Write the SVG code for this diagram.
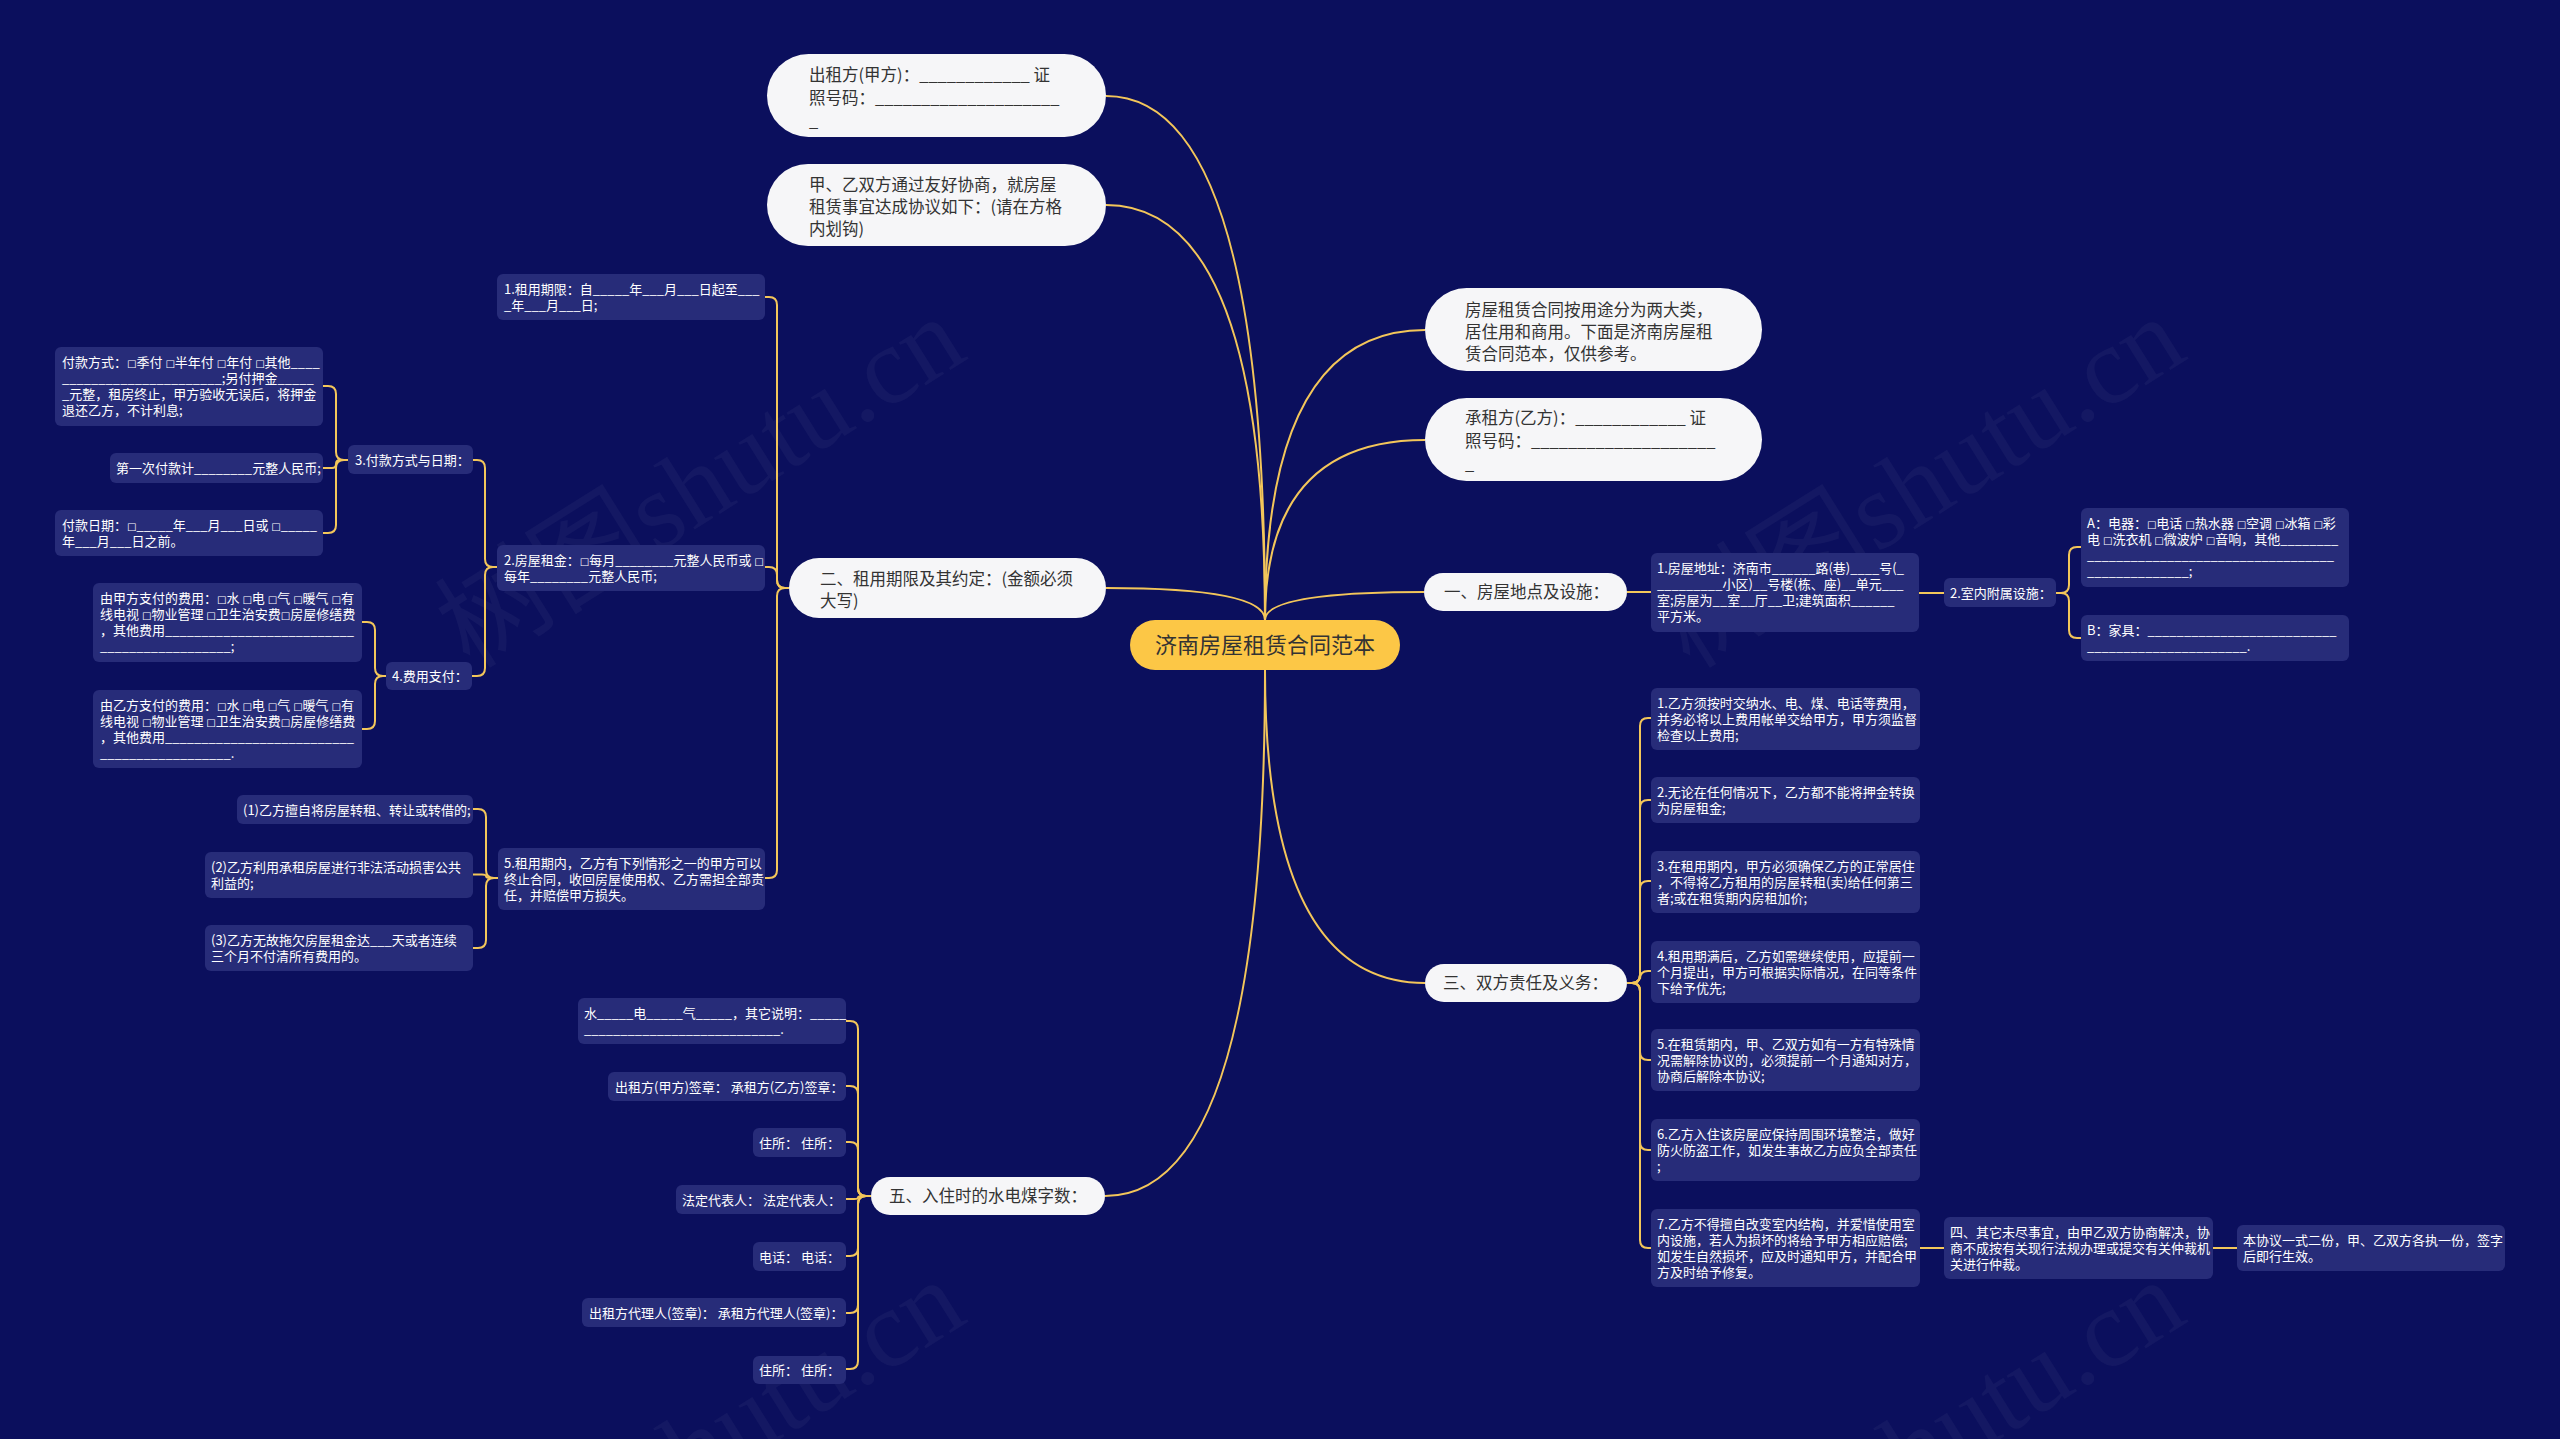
<svg xmlns="http://www.w3.org/2000/svg" width="2560" height="1439" viewBox="0 0 2560 1439">
<defs>
<style>
.bg{fill:#0b0f5d}
.conn path{fill:none;stroke:#f3c65a;stroke-width:2}
.r1{fill:#f6f6f8}
.r2{fill:#272c79}
.rt{fill:#fcc746}
text{font-family:"Noto Sans CJK SC","Noto Sans",sans-serif}
.t1{font-size:16.5px;fill:#333}
.t2{font-size:13px;fill:#fff}
.t0{font-size:22px;fill:#333}
.b{font-family:"DejaVu Sans",sans-serif;font-size:10px}
.wm{font-family:"Liberation Serif","Noto Sans CJK SC",serif;font-size:110px;fill:#ffffff;fill-opacity:0.04}
</style>
</defs>
<rect class="bg" x="0" y="0" width="2560" height="1439"/>

<g id="watermark">
<text class="wm" x="470" y="670" transform="rotate(-32 470 670)">树图shutu.cn</text>
<text class="wm" x="1690" y="670" transform="rotate(-32 1690 670)">树图shutu.cn</text>
<text class="wm" x="470" y="1633" transform="rotate(-32 470 1633)">树图shutu.cn</text>
<text class="wm" x="1690" y="1633" transform="rotate(-32 1690 1633)">树图shutu.cn</text>
</g>

<g id="connectors" class="conn">
<path d="M1265 620 Q1265 96 1106 96"/>
<path d="M1265 620 Q1265 205 1106 205"/>
<path d="M1265 620 Q1265 330 1425 330"/>
<path d="M1265 620 Q1265 440 1425 440"/>
<path d="M1265 620 Q1265 588 1106 588"/>
<path d="M1265 620 Q1265 592 1424 592"/>
<path d="M1265 670 Q1265 983 1425 983"/>
<path d="M1265 670 Q1265 1196 1105 1196"/>
<path d="M789 588 H785 Q777 588 777 580 V305 Q777 297 769 297 H765"/>
<path d="M789 588 H785 Q777 588 777 580 V575 Q777 567 769 567 H765"/>
<path d="M789 588 H785 Q777 588 777 596 V870 Q777 878 769 878 H765"/>
<path d="M497 567 H493 Q485 567 485 559 V468 Q485 460 477 460 H473"/>
<path d="M497 567 H493 Q485 567 485 575 V668 Q485 676 477 676 H472"/>
<path d="M348 460 H344 Q336 460 336 452 V394 Q336 386 328 386 H323"/>
<path d="M348 460 H340 Q336 460 336 464 Q336 468 332 468 H323"/>
<path d="M348 460 H344 Q336 460 336 468 V525 Q336 533 328 533 H323"/>
<path d="M386 676 H383 Q375 676 375 668 V630 Q375 622 367 622 H362"/>
<path d="M386 676 H383 Q375 676 375 684 V721 Q375 729 367 729 H362"/>
<path d="M498 878 H494 Q486 878 486 870 V817 Q486 809 478 809 H473"/>
<path d="M498 878 H490 Q486 878 486 876 Q486 874.5 482 874.5 H473"/>
<path d="M498 878 H494 Q486 878 486 886 V940 Q486 948 478 948 H473"/>
<path d="M1627 592 H1651"/>
<path d="M1919 593 H1944"/>
<path d="M2056 593 H2061 Q2069 593 2069 585 V555 Q2069 547 2077 547 H2081"/>
<path d="M2056 593 H2061 Q2069 593 2069 601 V630 Q2069 638 2077 638 H2081"/>
<path d="M1627 983 H1632 Q1640 983 1640 975 V726 Q1640 718 1648 718 H1651"/>
<path d="M1627 983 H1632 Q1640 983 1640 975 V808 Q1640 800 1648 800 H1651"/>
<path d="M1627 983 H1632 Q1640 983 1640 975 V889 Q1640 881 1648 881 H1651"/>
<path d="M1627 983 H1632 Q1640 983 1640 975 V979 Q1640 971 1648 971 H1651"/>
<path d="M1627 983 H1632 Q1640 983 1640 991 V1052 Q1640 1060 1648 1060 H1651"/>
<path d="M1627 983 H1632 Q1640 983 1640 991 V1142 Q1640 1150 1648 1150 H1651"/>
<path d="M1627 983 H1632 Q1640 983 1640 991 V1240 Q1640 1248 1648 1248 H1651"/>
<path d="M1920 1248 H1944"/>
<path d="M2213 1248 H2237"/>
<path d="M871 1196 H866 Q858 1196 858 1188 V1029 Q858 1021 850 1021 H846"/>
<path d="M871 1196 H866 Q858 1196 858 1188 V1094 Q858 1086 850 1086 H846"/>
<path d="M871 1196 H866 Q858 1196 858 1188 V1150 Q858 1142 850 1142 H846"/>
<path d="M871 1196 H862 Q858 1196 858 1197.5 Q858 1199 854 1199 H846"/>
<path d="M871 1196 H866 Q858 1196 858 1204 V1248 Q858 1256 850 1256 H846"/>
<path d="M871 1196 H866 Q858 1196 858 1204 V1305 Q858 1313 850 1313 H846"/>
<path d="M871 1196 H866 Q858 1196 858 1204 V1361 Q858 1369 850 1369 H846"/>
</g>

<g id="root">
<rect class="rt" x="1130" y="620" width="270" height="50" rx="25"/>
<text class="t0" x="1265" y="653" text-anchor="middle">济南房屋租赁合同范本</text>
</g>

<g id="n-chuzufang">
<rect class="r1" x="767" y="54" width="339" height="83" rx="41.5"/>
<text class="t1"><tspan x="809" y="81">出租方(甲方)：____________ 证</tspan><tspan x="809" y="104">照号码：____________________</tspan><tspan x="809" y="127">_</tspan></text>
</g>
<g id="n-xieshang">
<rect class="r1" x="767" y="164" width="339" height="82" rx="41"/>
<text class="t1"><tspan x="809" y="191">甲、乙双方通过友好协商，就房屋</tspan><tspan x="809" y="213">租赁事宜达成协议如下：(请在方格</tspan><tspan x="809" y="235">内划钩)</tspan></text>
</g>
<g id="n-intro">
<rect class="r1" x="1425" y="288" width="337" height="83" rx="41.5"/>
<text class="t1"><tspan x="1465" y="316">房屋租赁合同按用途分为两大类，</tspan><tspan x="1465" y="338">居住用和商用。下面是济南房屋租</tspan><tspan x="1465" y="360">赁合同范本，仅供参考。</tspan></text>
</g>
<g id="n-chengzufang">
<rect class="r1" x="1425" y="398" width="337" height="83" rx="41.5"/>
<text class="t1"><tspan x="1465" y="424">承租方(乙方)：____________ 证</tspan><tspan x="1465" y="447">照号码：____________________</tspan><tspan x="1465" y="470">_</tspan></text>
</g>
<g id="n-er">
<rect class="r1" x="789" y="558" width="317" height="60" rx="30"/>
<text class="t1"><tspan x="820" y="585">二、租用期限及其约定：(金额必须</tspan><tspan x="820" y="607">大写)</tspan></text>
</g>
<g id="n-yi">
<rect class="r1" x="1424" y="573" width="203" height="38" rx="19"/>
<text class="t1" x="1444" y="598">一、房屋地点及设施：</text>
</g>
<g id="n-san">
<rect class="r1" x="1425" y="964" width="202" height="38" rx="19"/>
<text class="t1" x="1443" y="989">三、双方责任及义务：</text>
</g>
<g id="n-wu">
<rect class="r1" x="871" y="1177" width="234" height="38" rx="19"/>
<text class="t1" x="889" y="1202">五、入住时的水电煤字数：</text>
</g>

<g id="n-qixian">
<rect class="r2" x="497" y="274" width="268" height="46" rx="6"/>
<text class="t2"><tspan x="504" y="293.5">1.租用期限：自_____年___月___日起至___</tspan><tspan x="504" y="309.8">_年___月___日;</tspan></text>
</g>
<g id="n-zujin">
<rect class="r2" x="497" y="545" width="268" height="46" rx="6"/>
<text class="t2"><tspan x="504" y="564.5">2.房屋租金：<tspan class="b">□</tspan>每月________元整人民币或 <tspan class="b">□</tspan></tspan><tspan x="504" y="580.8">每年________元整人民币;</tspan></text>
</g>
<g id="n-fukuan">
<rect class="r2" x="348" y="445" width="125" height="29" rx="6"/>
<text class="t2" x="355" y="464.5">3.付款方式与日期：</text>
</g>
<g id="n-fangshi">
<rect class="r2" x="55" y="347" width="268" height="79" rx="6"/>
<text class="t2"><tspan x="62" y="366.5">付款方式：<tspan class="b">□</tspan>季付 <tspan class="b">□</tspan>半年付 <tspan class="b">□</tspan>年付 <tspan class="b">□</tspan>其他____</tspan><tspan x="62" y="382.8">______________________;另付押金_____</tspan><tspan x="62" y="399.1">_元整，租房终止，甲方验收无误后，将押金</tspan><tspan x="62" y="415.4">退还乙方，不计利息;</tspan></text>
</g>
<g id="n-diyici">
<rect class="r2" x="110" y="453" width="213" height="30" rx="6"/>
<text class="t2" x="116" y="472.5">第一次付款计________元整人民币;</text>
</g>
<g id="n-riqi">
<rect class="r2" x="55" y="510" width="268" height="46" rx="6"/>
<text class="t2"><tspan x="62" y="529.5">付款日期：<tspan class="b">□</tspan>_____年___月___日或 <tspan class="b">□</tspan>_____</tspan><tspan x="62" y="545.8">年___月___日之前。</tspan></text>
</g>
<g id="n-feiyong">
<rect class="r2" x="386" y="662" width="86" height="28" rx="6"/>
<text class="t2" x="392" y="680.5">4.费用支付：</text>
</g>
<g id="n-jiafang">
<rect class="r2" x="93" y="583" width="269" height="79" rx="6"/>
<text class="t2"><tspan x="100" y="602.5">由甲方支付的费用：<tspan class="b">□</tspan>水 <tspan class="b">□</tspan>电 <tspan class="b">□</tspan>气 <tspan class="b">□</tspan>暖气 <tspan class="b">□</tspan>有</tspan><tspan x="100" y="618.8">线电视 <tspan class="b">□</tspan>物业管理 <tspan class="b">□</tspan>卫生治安费<tspan class="b">□</tspan>房屋修缮费</tspan><tspan x="100" y="635.1">，其他费用__________________________</tspan><tspan x="100" y="651.4">__________________;</tspan></text>
</g>
<g id="n-yifang">
<rect class="r2" x="93" y="690" width="269" height="78" rx="6"/>
<text class="t2"><tspan x="100" y="709.5">由乙方支付的费用：<tspan class="b">□</tspan>水 <tspan class="b">□</tspan>电 <tspan class="b">□</tspan>气 <tspan class="b">□</tspan>暖气 <tspan class="b">□</tspan>有</tspan><tspan x="100" y="725.8">线电视 <tspan class="b">□</tspan>物业管理 <tspan class="b">□</tspan>卫生治安费<tspan class="b">□</tspan>房屋修缮费</tspan><tspan x="100" y="742.1">，其他费用__________________________</tspan><tspan x="100" y="758.4">__________________.</tspan></text>
</g>
<g id="n-zhongzhi">
<rect class="r2" x="498" y="848" width="267" height="62" rx="6"/>
<text class="t2"><tspan x="504" y="867.5">5.租用期内，乙方有下列情形之一的甲方可以</tspan><tspan x="504" y="883.8">终止合同，收回房屋使用权、乙方需担全部责</tspan><tspan x="504" y="900.1">任，并赔偿甲方损失。</tspan></text>
</g>
<g id="n-q1">
<rect class="r2" x="237" y="795" width="236" height="29" rx="6"/>
<text class="t2" x="243" y="814.5">(1)乙方擅自将房屋转租、转让或转借的;</text>
</g>
<g id="n-q2">
<rect class="r2" x="205" y="852" width="268" height="46" rx="6"/>
<text class="t2"><tspan x="211" y="871.5">(2)乙方利用承租房屋进行非法活动损害公共</tspan><tspan x="211" y="887.8">利益的;</tspan></text>
</g>
<g id="n-q3">
<rect class="r2" x="205" y="925" width="268" height="46" rx="6"/>
<text class="t2"><tspan x="211" y="944.5">(3)乙方无故拖欠房屋租金达___天或者连续</tspan><tspan x="211" y="960.8">三个月不付清所有费用的。</tspan></text>
</g>

<g id="n-dizhi">
<rect class="r2" x="1651" y="553" width="268" height="79" rx="6"/>
<text class="t2"><tspan x="1657" y="572.5">1.房屋地址：济南市______路(巷)____号(_</tspan><tspan x="1657" y="588.8">_________小区)__号楼(栋、座)__单元___</tspan><tspan x="1657" y="605.1">室;房屋为__室__厅__卫;建筑面积______</tspan><tspan x="1657" y="621.4">平方米。</tspan></text>
</g>
<g id="n-sheshi">
<rect class="r2" x="1944" y="578" width="112" height="29" rx="6"/>
<text class="t2" x="1950" y="597.5">2.室内附属设施：</text>
</g>
<g id="n-dianqi">
<rect class="r2" x="2081" y="508" width="268" height="79" rx="6"/>
<text class="t2"><tspan x="2087" y="527.5">A：电器：<tspan class="b">□</tspan>电话 <tspan class="b">□</tspan>热水器 <tspan class="b">□</tspan>空调 <tspan class="b">□</tspan>冰箱 <tspan class="b">□</tspan>彩</tspan><tspan x="2087" y="543.8">电 <tspan class="b">□</tspan>洗衣机 <tspan class="b">□</tspan>微波炉 <tspan class="b">□</tspan>音响，其他________</tspan><tspan x="2087" y="560.1">__________________________________</tspan><tspan x="2087" y="576.4">______________;</tspan></text>
</g>
<g id="n-jiaju">
<rect class="r2" x="2081" y="615" width="268" height="46" rx="6"/>
<text class="t2"><tspan x="2087" y="634.5">B：家具：__________________________</tspan><tspan x="2087" y="650.8">______________________.</tspan></text>
</g>

<g id="n-c1">
<rect class="r2" x="1651" y="688" width="269" height="62" rx="6"/>
<text class="t2"><tspan x="1657" y="707.5">1.乙方须按时交纳水、电、煤、电话等费用，</tspan><tspan x="1657" y="723.8">并务必将以上费用帐单交给甲方，甲方须监督</tspan><tspan x="1657" y="740.1">检查以上费用;</tspan></text>
</g>
<g id="n-c2">
<rect class="r2" x="1651" y="777" width="269" height="46" rx="6"/>
<text class="t2"><tspan x="1657" y="796.5">2.无论在任何情况下，乙方都不能将押金转换</tspan><tspan x="1657" y="812.8">为房屋租金;</tspan></text>
</g>
<g id="n-c3">
<rect class="r2" x="1651" y="851" width="269" height="62" rx="6"/>
<text class="t2"><tspan x="1657" y="870.5">3.在租用期内，甲方必须确保乙方的正常居住</tspan><tspan x="1657" y="886.8">，不得将乙方租用的房屋转租(卖)给任何第三</tspan><tspan x="1657" y="903.1">者;或在租赁期内房租加价;</tspan></text>
</g>
<g id="n-c4">
<rect class="r2" x="1651" y="941" width="269" height="62" rx="6"/>
<text class="t2"><tspan x="1657" y="960.5">4.租用期满后，乙方如需继续使用，应提前一</tspan><tspan x="1657" y="976.8">个月提出，甲方可根据实际情况，在同等条件</tspan><tspan x="1657" y="993.1">下给予优先;</tspan></text>
</g>
<g id="n-c5">
<rect class="r2" x="1651" y="1029" width="269" height="62" rx="6"/>
<text class="t2"><tspan x="1657" y="1048.5">5.在租赁期内，甲、乙双方如有一方有特殊情</tspan><tspan x="1657" y="1064.8">况需解除协议的，必须提前一个月通知对方，</tspan><tspan x="1657" y="1081.1">协商后解除本协议;</tspan></text>
</g>
<g id="n-c6">
<rect class="r2" x="1651" y="1119" width="269" height="62" rx="6"/>
<text class="t2"><tspan x="1657" y="1138.5">6.乙方入住该房屋应保持周围环境整洁，做好</tspan><tspan x="1657" y="1154.8">防火防盗工作，如发生事故乙方应负全部责任</tspan><tspan x="1657" y="1171.1">;</tspan></text>
</g>
<g id="n-c7">
<rect class="r2" x="1651" y="1209" width="269" height="78" rx="6"/>
<text class="t2"><tspan x="1657" y="1228.5">7.乙方不得擅自改变室内结构，并爱惜使用室</tspan><tspan x="1657" y="1244.8">内设施，若人为损坏的将给予甲方相应赔偿;</tspan><tspan x="1657" y="1261.1">如发生自然损坏，应及时通知甲方，并配合甲</tspan><tspan x="1657" y="1277.4">方及时给予修复。</tspan></text>
</g>
<g id="n-si">
<rect class="r2" x="1944" y="1217" width="269" height="62" rx="6"/>
<text class="t2"><tspan x="1950" y="1236.5">四、其它未尽事宜，由甲乙双方协商解决，协</tspan><tspan x="1950" y="1252.8">商不成按有关现行法规办理或提交有关仲裁机</tspan><tspan x="1950" y="1269.1">关进行仲裁。</tspan></text>
</g>
<g id="n-xieyi">
<rect class="r2" x="2237" y="1225" width="268" height="46" rx="6"/>
<text class="t2"><tspan x="2243" y="1244.5">本协议一式二份，甲、乙双方各执一份，签字</tspan><tspan x="2243" y="1260.8">后即行生效。</tspan></text>
</g>

<g id="n-f1">
<rect class="r2" x="578" y="998" width="268" height="46" rx="6"/>
<text class="t2"><tspan x="584" y="1017.5">水_____电_____气_____，其它说明：_____</tspan><tspan x="584" y="1033.8">___________________________.</tspan></text>
</g>
<g id="n-f2">
<rect class="r2" x="608" y="1072" width="238" height="29" rx="6"/>
<text class="t2" x="615" y="1091.5">出租方(甲方)签章： 承租方(乙方)签章：</text>
</g>
<g id="n-f3">
<rect class="r2" x="753" y="1128" width="93" height="29" rx="6"/>
<text class="t2" x="759" y="1147.5">住所： 住所：</text>
</g>
<g id="n-f4">
<rect class="r2" x="676" y="1185" width="170" height="29" rx="6"/>
<text class="t2" x="682" y="1204.5">法定代表人： 法定代表人：</text>
</g>
<g id="n-f5">
<rect class="r2" x="753" y="1242" width="93" height="29" rx="6"/>
<text class="t2" x="759" y="1261.5">电话： 电话：</text>
</g>
<g id="n-f6">
<rect class="r2" x="582" y="1298" width="264" height="29" rx="6"/>
<text class="t2" x="589" y="1317.5">出租方代理人(签章)： 承租方代理人(签章)：</text>
</g>
<g id="n-f7">
<rect class="r2" x="753" y="1356" width="93" height="28" rx="6"/>
<text class="t2" x="759" y="1375">住所： 住所：</text>
</g>
</svg>
